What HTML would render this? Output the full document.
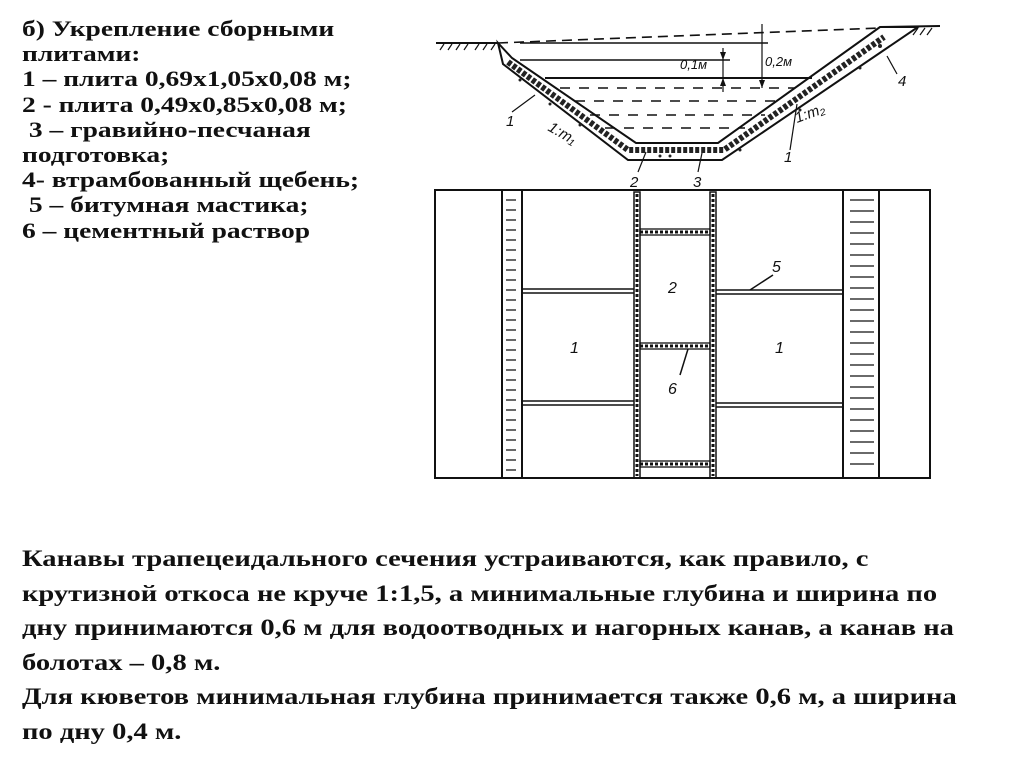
<!DOCTYPE html>
<html><head><meta charset="utf-8"><style>
html,body{margin:0;padding:0;background:#fff;}
body{width:1024px;height:767px;position:relative;overflow:hidden;}
.t{position:absolute;font-family:"Liberation Serif","Noto Serif CJK SC",serif;font-weight:bold;color:#111;white-space:nowrap;transform-origin:0 0;}
.a{left:22px;top:16px;font-size:22px;line-height:25.2px;transform:scaleX(1.25);}
.b{left:22px;top:542px;font-size:23px;line-height:34.6px;transform:scaleX(1.24);}
svg{position:absolute;left:0;top:0;}
</style></head><body>
<div class="t a">б) Укрепление сборными<br>плитами:<br>1 – плита 0,69х1,05х0,08 м;<br>2 - плита 0,49х0,85х0,08 м;<br>&nbsp;3 – гравийно-песчаная<br>подготовка;<br>4- втрамбованный щебень;<br>&nbsp;5 – битумная мастика;<br>6 – цементный раствор</div>
<div class="t b">Канавы трапецеидального сечения устраиваются, как правило, с<br>крутизной откоса не круче 1:1,5, а минимальные глубина и ширина по<br>дну принимаются 0,6 м для водоотводных и нагорных канав, а канав на<br>болотах – 0,8 м.<br>Для кюветов минимальная глубина принимается также 0,6 м, а ширина<br>по дну 0,4 м.</div>
<svg width="1024" height="767" viewBox="0 0 1024 767" fill="none" stroke="#111" stroke-width="1.6">
<line x1="436" y1="43" x2="498" y2="43" stroke-width="2"/>
<g stroke-width="1.2"><line x1="440" y1="50" x2="444" y2="44"/><line x1="448" y1="50" x2="452" y2="44"/><line x1="456" y1="50" x2="460" y2="44"/><line x1="464" y1="50" x2="468" y2="44"/><line x1="475" y1="50" x2="479" y2="44"/><line x1="483" y1="50" x2="487" y2="44"/><line x1="491" y1="50" x2="495" y2="44"/>
<line x1="913" y1="35" x2="918" y2="28"/><line x1="920" y1="35" x2="925" y2="28"/><line x1="927" y1="35" x2="932" y2="28"/></g>
<line x1="880" y1="27" x2="940" y2="26" stroke-width="2"/>
<line x1="498" y1="43" x2="880" y2="28" stroke-dasharray="10,6" stroke-width="1.6"/>
<path d="M498,43 L503,64 L628,160 L722,160 L918,27 L880,27 L718,143 L636,143 L512,58 Z" fill="#fff" stroke-width="2"/>
<path d="M512,58 L636,143 L718,143 L880,27" stroke-width="1.4"/>
<path d="M508,62 L628,150 L724,150 L884,37" stroke-width="6" stroke="#222" stroke-dasharray="4,2"/>
<g fill="#222" stroke="none"><circle cx="520" cy="80" r="1.5"/><circle cx="550" cy="104" r="1.5"/><circle cx="580" cy="125" r="1.5"/><circle cx="660" cy="156" r="1.5"/><circle cx="670" cy="156" r="1.5"/><circle cx="740" cy="150" r="1.5"/><circle cx="800" cy="110" r="1.5"/><circle cx="860" cy="68" r="1.5"/><circle cx="880" cy="46" r="2"/></g>
<line x1="520" y1="43" x2="768" y2="43" stroke-width="1.4"/>
<line x1="520" y1="60" x2="730" y2="60" stroke-width="1.4"/>
<line x1="545" y1="78" x2="812" y2="78" stroke-width="2"/>
<g stroke-width="1.4" stroke-dasharray="10,9"><line x1="560" y1="88" x2="795" y2="88"/><line x1="575" y1="101" x2="780" y2="101"/><line x1="590" y1="115" x2="765" y2="115"/><line x1="605" y1="128" x2="745" y2="128"/></g>
<line x1="762" y1="24" x2="762" y2="88" stroke-width="1.2"/>
<line x1="723" y1="48" x2="723" y2="92" stroke-width="1.2"/>
<g fill="#111" stroke="none"><path d="M759,80 L765,80 L762,88 Z"/><path d="M720,52 L726,52 L723,60 Z"/><path d="M720,86 L726,86 L723,78 Z"/></g>
<g stroke-width="1.2"><line x1="512" y1="112" x2="535" y2="95"/><line x1="638" y1="172" x2="646" y2="152"/><line x1="698" y1="172" x2="702" y2="153"/><line x1="790" y1="150" x2="797" y2="104"/><line x1="897" y1="74" x2="887" y2="56"/></g>
<g fill="#111" stroke="none" font-family="Liberation Sans,sans-serif" font-style="italic" font-size="15">
<text x="506" y="126">1</text><text x="547" y="130" transform="rotate(30 547 130)">1:m₁</text>
<text x="630" y="187">2</text><text x="693" y="187">3</text><text x="784" y="162">1</text><text x="898" y="86">4</text>
<text x="797" y="123" transform="rotate(-20 797 123)">1:m₂</text>
<text x="680" y="69" font-size="13">0,1м</text><text x="765" y="66" font-size="13">0,2м</text>
</g>
<rect x="435" y="190" width="495" height="288" stroke-width="2"/>
<rect x="502" y="190" width="20" height="288" stroke-width="2"/>
<rect x="843" y="190" width="36" height="288" stroke-width="2"/>
<g stroke-width="1.3">
<path d="M506,200h10M506,210h10M506,220h10M506,230h10M506,240h10M506,250h10M506,260h10M506,270h10M506,280h10M506,290h10M506,300h10M506,310h10M506,320h10M506,330h10M506,340h10M506,350h10M506,360h10M506,370h10M506,380h10M506,390h10M506,400h10M506,410h10M506,420h10M506,430h10M506,440h10M506,450h10M506,460h10M506,470h10"/>
<path d="M850,200h24M850,211h24M850,222h24M850,233h24M850,244h24M850,255h24M850,266h24M850,277h24M850,288h24M850,299h24M850,310h24M850,321h24M850,332h24M850,343h24M850,354h24M850,365h24M850,376h24M850,387h24M850,398h24M850,409h24M850,420h24M850,431h24M850,442h24M850,453h24M850,464h24"/>
</g>
<rect x="634" y="192" width="6" height="286" stroke-width="1.5"/>
<rect x="710" y="192" width="6" height="286" stroke-width="1.5"/>
<g stroke-width="3" stroke-dasharray="3,2"><line x1="637" y1="194" x2="637" y2="476"/><line x1="713" y1="194" x2="713" y2="476"/>
<line x1="640" y1="232" x2="710" y2="232"/><line x1="640" y1="346" x2="710" y2="346"/><line x1="640" y1="464" x2="710" y2="464"/></g>
<g stroke-width="1.3"><rect x="640" y="229" width="70" height="6"/><rect x="640" y="343" width="70" height="6"/><rect x="640" y="461" width="70" height="6"/></g>
<g stroke-width="1.5"><line x1="522" y1="289" x2="634" y2="289"/><line x1="522" y1="293" x2="634" y2="293"/><line x1="522" y1="401" x2="634" y2="401"/><line x1="522" y1="405" x2="634" y2="405"/>
<line x1="716" y1="290" x2="843" y2="290"/><line x1="716" y1="294" x2="843" y2="294"/><line x1="716" y1="403" x2="843" y2="403"/><line x1="716" y1="407" x2="843" y2="407"/>
<line x1="750" y1="290" x2="773" y2="275"/><line x1="688" y1="349" x2="680" y2="375"/></g>
<g fill="#111" stroke="none" font-family="Liberation Sans,sans-serif" font-style="italic" font-size="16">
<text x="570" y="353">1</text><text x="775" y="353">1</text><text x="668" y="293">2</text><text x="668" y="394">6</text><text x="772" y="272">5</text>
</g>
</svg>
</body></html>
